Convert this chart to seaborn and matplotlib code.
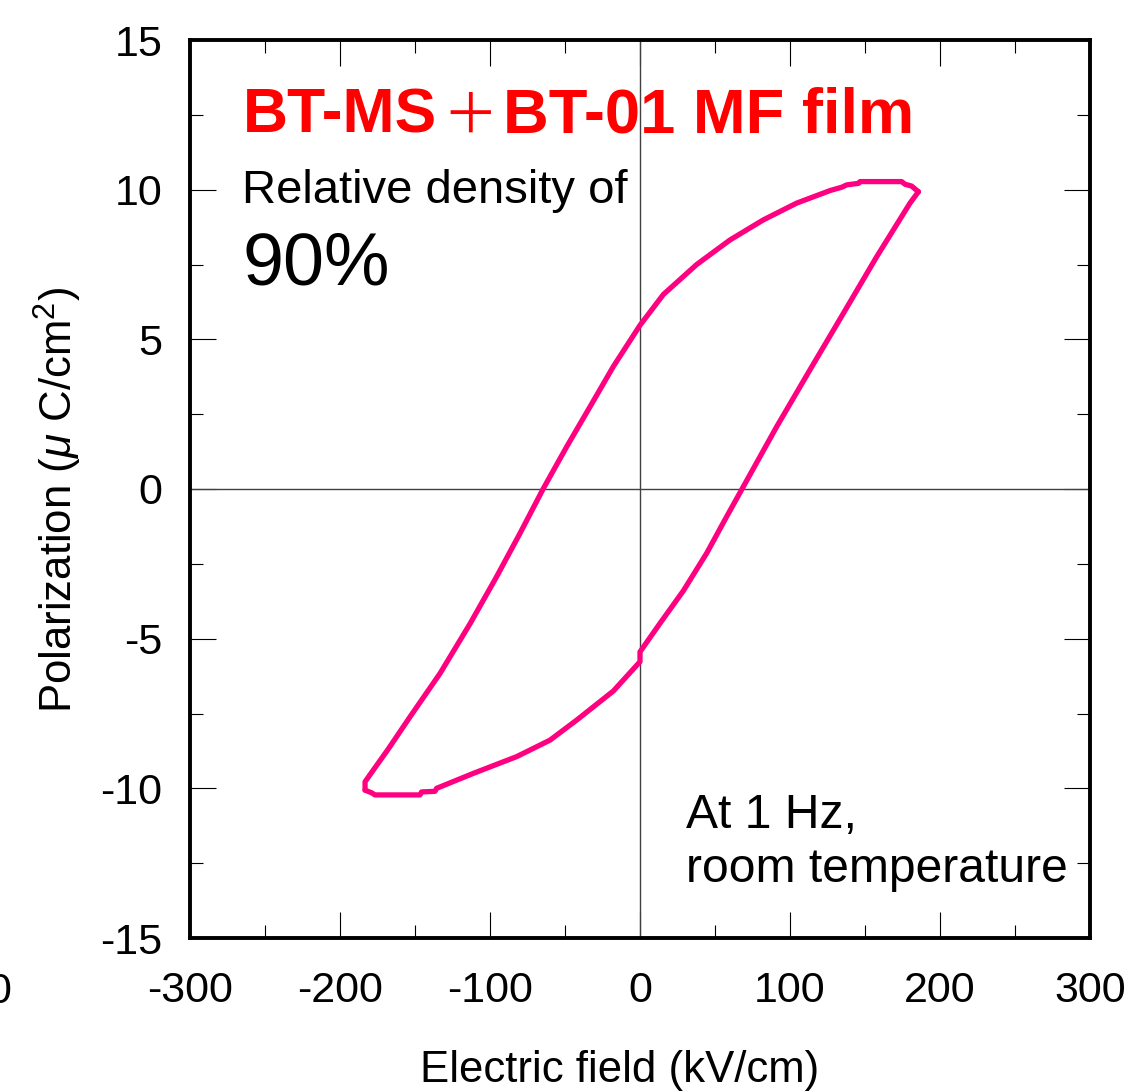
import numpy as np
import pandas as pd
import matplotlib
matplotlib.use('Agg')
import matplotlib.pyplot as plt
import seaborn as sns

# P-E hysteresis loop
# descending field branch (upper half of the loop)
field_down = [185.6, 181.1, 176.7, 174.4, 146.7, 145.6, 137.8, 134.4, 126.7, 104.4, 82.2, 60, 37.8, 15.6, 0,
              -17.8, -33.3, -48.9, -64.4, -80, -95.6, -113.3, -133.3, -153.3, -168, -177.8, -183.3, -183.3]
pol_down = [9.93, 10.12, 10.18, 10.27, 10.27, 10.21, 10.16, 10.08, 9.97, 9.55, 8.99, 8.32, 7.5, 6.5, 5.47,
            4.09, 2.75, 1.41, 0.02, -1.48, -2.93, -4.5, -6.16, -7.61, -8.7, -9.39, -9.78, -10.06]
# ascending field branch (lower half)
field_up = [-183.3, -178.9, -176.7, -146.7, -145.6, -136.7, -135.6, -111.1, -82.2, -60, -42.2, -17.8, 0, 0,
            13.3, 28.9, 44.4, 57.8, 68.9, 91.1, 113.3, 135.6, 157.8, 180, 185.6]
pol_up = [-10.06, -10.15, -10.22, -10.22, -10.12, -10.1, -10.0, -9.5, -8.94, -8.39, -7.72, -6.75, -5.77, -5.44,
          -4.49, -3.4, -2.15, -0.92, 0.08, 2.08, 3.98, 5.87, 7.76, 9.55, 9.93]

x_ticks = [-300, -200, -100, 0, 100, 200, 300]
y_ticks = [-15, -10, -5, 0, 5, 10, 15]

loop = pd.DataFrame({
    'E': field_down + field_up,
    'P': pol_down + pol_up,
    'branch': ['down'] * len(field_down) + ['up'] * len(field_up),
})

sns.set_style('ticks')
plt.rcParams['font.family'] = ['Liberation Sans', 'Noto Sans CJK JP', 'DejaVu Sans']
plt.rcParams['mathtext.fontset'] = 'custom'
plt.rcParams['mathtext.rm'] = 'Liberation Sans'
plt.rcParams['mathtext.it'] = 'Liberation Sans:italic'
plt.rcParams['axes.unicode_minus'] = False
for key in ['text.color', 'axes.labelcolor', 'xtick.color', 'ytick.color']:
    plt.rcParams[key] = 'black'

fig = plt.figure(figsize=(11.28, 10.91), dpi=100)
ax = fig.add_axes([190 / 1128, 153 / 1091, 900 / 1128, 898 / 1091])

ax.axhline(0, color='#404040', lw=1, zorder=1)
ax.axvline(0, color='#404040', lw=1, zorder=1)

loop_color = '#ff0080'
for name, part in loop.groupby('branch'):
    sns.lineplot(data=part, x='E', y='P', sort=False, estimator=None,
                 color=loop_color, lw=3.8, ax=ax, zorder=3,
                 solid_joinstyle='round', solid_capstyle='round')

ax.set_xlim(-300, 300)
ax.set_ylim(-15, 15)
ax.set_xticks(x_ticks)
ax.set_xticks(np.arange(-250, 300, 100), minor=True)
ax.set_yticks(y_ticks)
ax.set_yticks(np.arange(-12.5, 15, 5), minor=True)
ax.set_xticklabels([str(v) for v in x_ticks])
ax.set_yticklabels([str(v) for v in y_ticks])
ax.tick_params(which='both', direction='in', top=True, right=True, width=0.8, color='black')
ax.tick_params(which='major', length=19, labelsize=31)
ax.tick_params(axis='x', which='major', pad=24)
ax.tick_params(axis='y', which='major', pad=20)
ax.tick_params(which='minor', length=9.5)
for s in ax.spines.values():
    s.set_linewidth(2.8)
    s.set_color('black')

ax.set_xlabel('Electric field (kV/cm)', fontsize=31.5)
ax.set_ylabel(r'Polarization ($\mu$ C/cm$^2$)', fontsize=31.5)
ax.xaxis.set_label_coords(0.477, -0.125)
ax.yaxis.set_label_coords(-0.118, 0.488)

# annotations
t1 = ax.text(-265, 11.9, 'BT-MS', color='#ff0000', fontsize=45, fontweight='bold', va='baseline')
t2 = ax.annotate('＋', xy=(1, 0), xycoords=t1, xytext=(4, 0), textcoords='offset points',
                 color='#ff0000', fontsize=40, fontfamily=['Noto Sans CJK JP'], va='bottom')
ax.annotate('BT-01 MF film', xy=(1, 0), xycoords=t2, xytext=(4, 0), textcoords='offset points',
            color='#ff0000', fontsize=45.5, fontweight='bold', va='bottom')
ax.text(-265, 9.56, 'Relative density of', fontsize=34, va='baseline')
ax.text(-265, 6.82, '90%', fontsize=53, va='baseline')
ax.text(31, -11.33, 'At 1 Hz,', fontsize=34.6, va='baseline')
ax.text(31, -13.13, 'room temperature', fontsize=34.6, va='baseline')

# clipped leftover label at the far left edge, as in the source image
fig.text(11 / 1128, (1091 - 972) / 1091, '0', fontsize=31, ha='right', va='top')

fig.savefig('out.png', dpi=100)
